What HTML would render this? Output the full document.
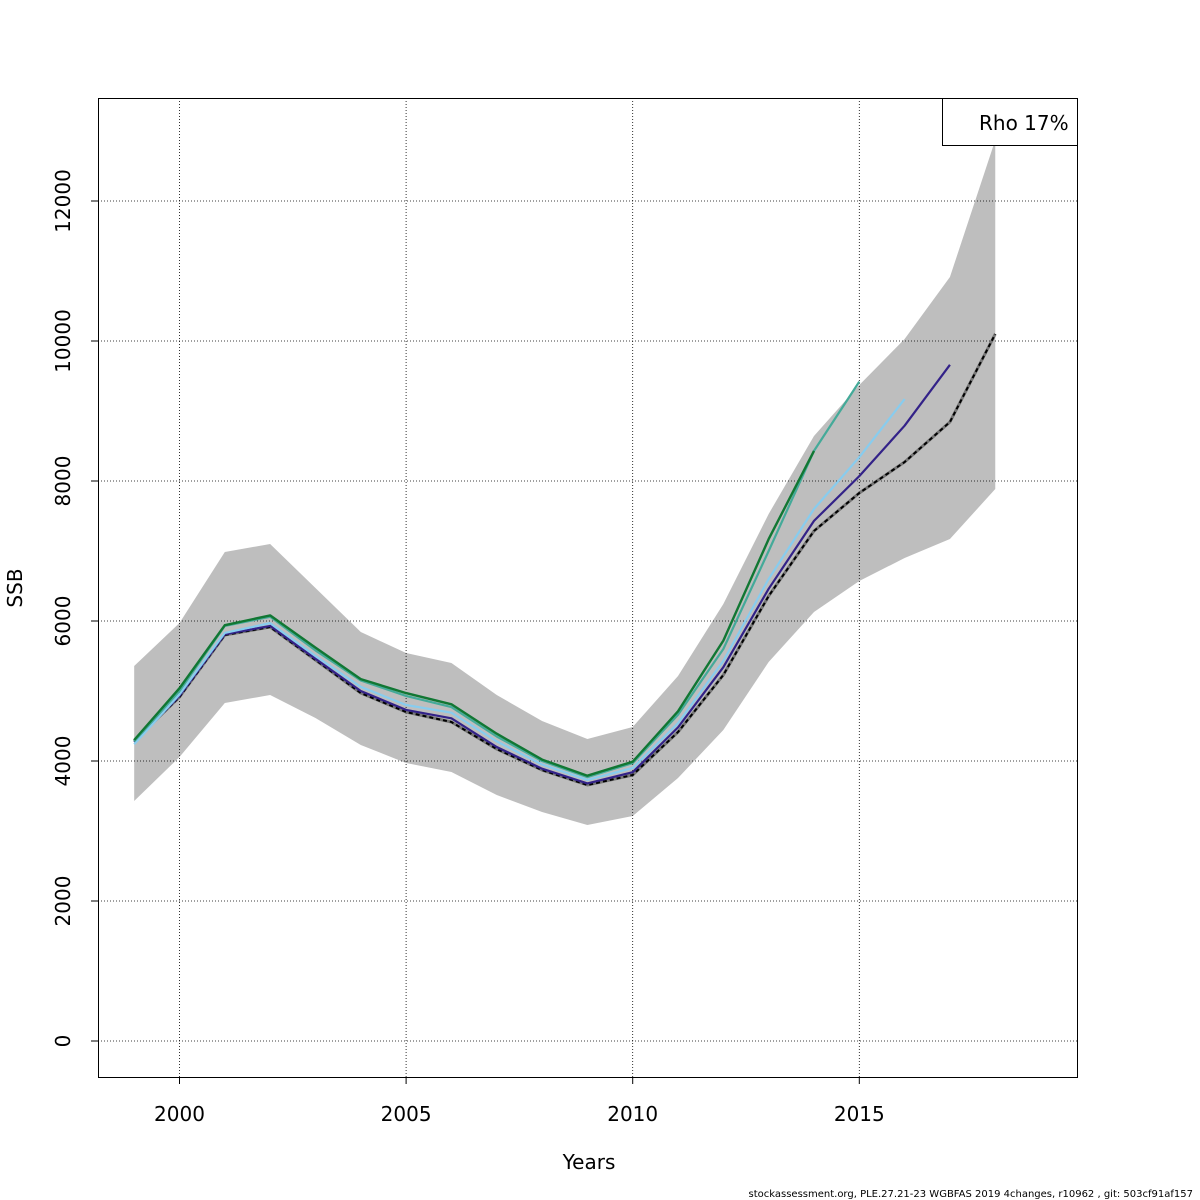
<!DOCTYPE html>
<html><head><meta charset="utf-8"><style>
html,body{margin:0;padding:0;background:#fff;}
svg{display:block;font-family:"DejaVu Sans","Liberation Sans",sans-serif;}
</style></head><body>
<svg id="chart" width="1200" height="1200" viewBox="0 0 1200 1200">
<rect width="1200" height="1200" fill="#fff"/>
<g id="band"></g>
<g id="grid"></g>
<g id="lines"></g>
<rect x="98.5" y="98.5" width="979" height="979" fill="none" stroke="#000" stroke-width="1"/>
<g id="axes"></g>
<text x="589" y="1169" font-size="20" text-anchor="middle">Years</text>
<text x="22" y="588" font-size="20" text-anchor="middle" transform="rotate(-90 22 588)">SSB</text>
<g>
<rect x="942.5" y="98.5" width="135" height="47" fill="#fff" stroke="#000"/>
<text x="979" y="130" font-size="20">Rho 17%</text>
</g>
<text x="1193" y="1197" font-size="10" text-anchor="end">stockassessment.org, PLE.27.21-23  WGBFAS  2019  4changes, r10962 , git: 503cf91af157</text>
</svg>
<script>
const years=[1999,2000,2001,2002,2003,2004,2005,2006,2007,2008,2009,2010,2011,2012,2013,2014,2015,2016,2017,2018];
const upper=[5357,5971,6986,7100,6471,5843,5543,5400,4943,4571,4314,4486,5214,6243,7529,8643,9371,10029,10914,12871];
const lower=[3429,4057,4829,4943,4614,4229,3971,3843,3514,3271,3086,3214,3757,4443,5414,6129,6571,6900,7171,7886];
const base=[4286,4914,5800,5914,5443,4971,4700,4557,4171,3871,3657,3800,4414,5229,6357,7286,7829,8271,8843,10100];
const peel1=[4270,4930,5810,5930,5460,5000,4730,4610,4200,3890,3680,3840,4480,5340,6460,7430,8070,8790,9660];
const peel2=[4240,4950,5830,5970,5500,5060,4800,4690,4280,3950,3730,3900,4540,5430,6600,7600,8340,9170];
const peel3=[4280,5000,5930,6060,5580,5150,4930,4770,4350,4000,3770,3970,4660,5600,7000,8430,9420];
const peel4=[4300,5040,5940,6080,5620,5170,4970,4810,4390,4020,3790,3990,4710,5720,7170,8430];
const xTicks=[2000,2005,2010,2015];
const yTicks=[0,2000,4000,6000,8000,10000,12000];
const NS='http://www.w3.org/2000/svg';
function sx(y){return 179.5+(y-2000)*45.32;}
function sy(v){return 1041-v*0.07;}
function mk(tag,attrs,parent){const e=document.createElementNS(NS,tag);for(const k in attrs)e.setAttribute(k,attrs[k]);parent.appendChild(e);return e;}
const band=document.getElementById('band');
let pts=years.map((y,i)=>sx(y)+','+sy(upper[i]));
for(let i=years.length-1;i>=0;i--)pts.push(sx(years[i])+','+sy(lower[i]));
const poly=mk('polygon',{points:pts.join(' '),fill:'#bebebe',stroke:'none'},band);


const grid=document.getElementById('grid');
const axes=document.getElementById('axes');
xTicks.forEach(t=>{
 const l=mk('line',{x1:sx(t),x2:sx(t),y1:98,y2:1077,stroke:'#000','stroke-width':0.8,'stroke-dasharray':'1,2'},grid);
 
 
 const tk=mk('line',{x1:sx(t),x2:sx(t),y1:1077,y2:1084,stroke:'#000'},axes);
 
 
 const tx=mk('text',{x:sx(t),y:1121,'font-size':20,'text-anchor':'middle'},axes);
 tx.textContent=t;
 
 
});
yTicks.forEach(t=>{
 const l=mk('line',{x1:98,x2:1077,y1:sy(t),y2:sy(t),stroke:'#000','stroke-width':0.8,'stroke-dasharray':'1,2'},grid);
 
 
 const tk=mk('line',{x1:91,x2:98,y1:sy(t),y2:sy(t),stroke:'#000'},axes);
 
 
 const tx=mk('text',{x:70,y:sy(t),'font-size':20,'text-anchor':'middle',transform:'rotate(-90 70 '+sy(t)+')'},axes);
 tx.textContent=t;
 
 
});
const lines=document.getElementById('lines');
function drawLine(vals,color,w,dash,name){
 const p=vals.map((v,i)=>sx(years[i])+','+sy(v)).join(' ');
 const a={points:p,fill:'none',stroke:color,'stroke-width':w,'stroke-linejoin':'round'};
 if(dash)a['stroke-dasharray']=dash;
 const e=mk('polyline',a,lines);
 
 
}
drawLine(base,'#777',3,null,'base-line-shadow');
drawLine(base,'#000',2,'4,3','base-line');
drawLine(peel1,'#332288',2.2,null,'retro-peel-1');
drawLine(peel2,'#88ccee',2.2,null,'retro-peel-2');
drawLine(peel3,'#44aa99',2.2,null,'retro-peel-3');
drawLine(peel4,'#117733',2.4,null,'retro-peel-4');
</script>
</body></html>
